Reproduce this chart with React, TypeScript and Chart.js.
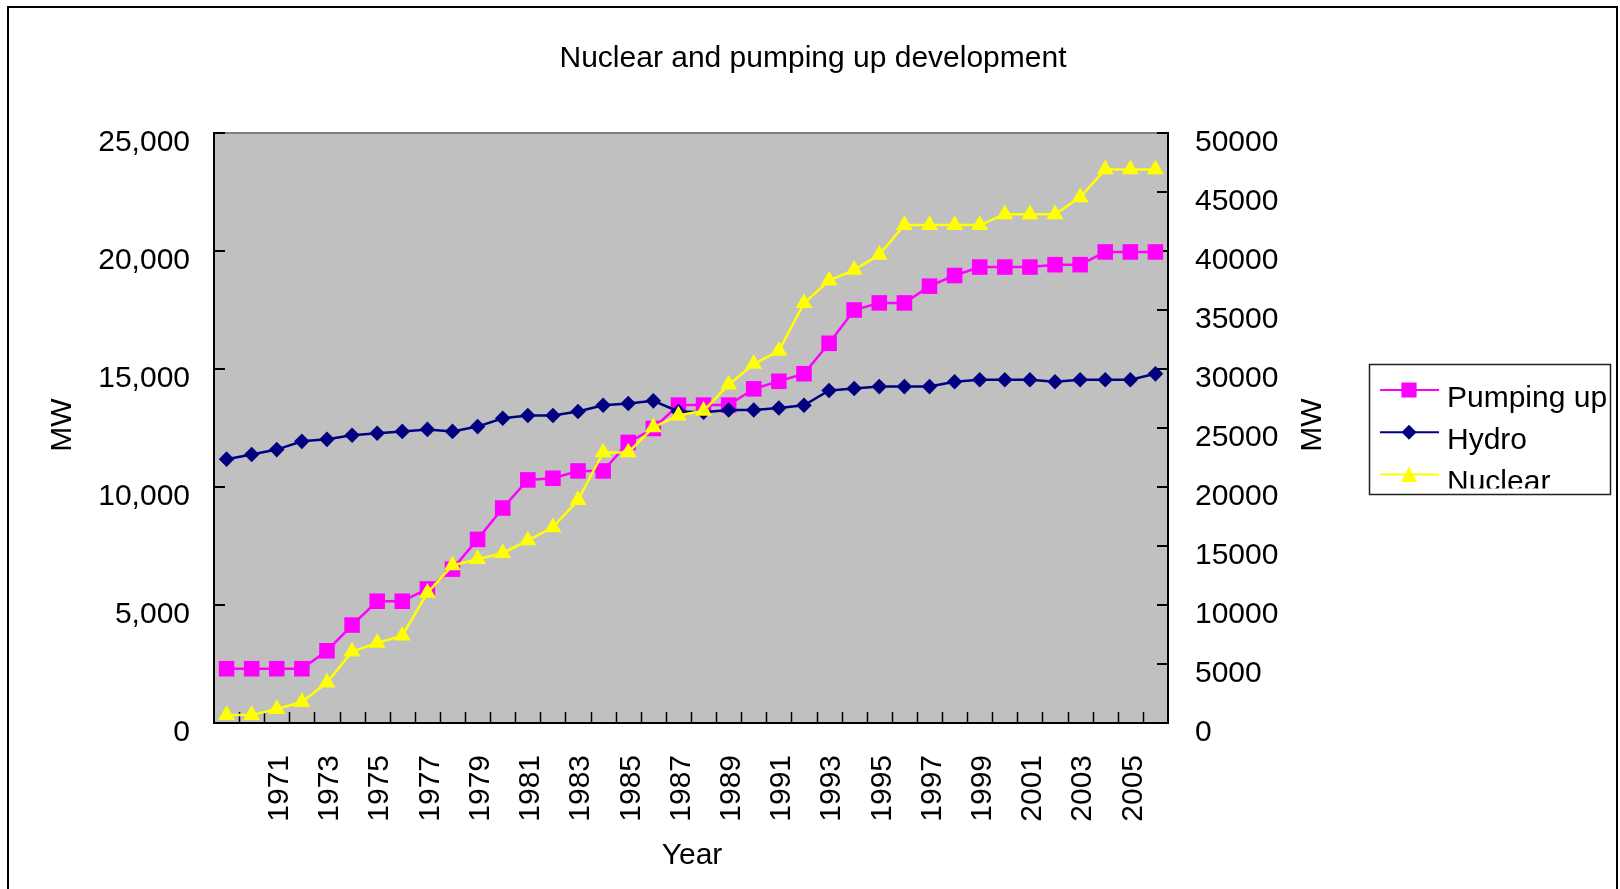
import React, { useEffect, useRef } from 'react';
import { Chart, registerables } from 'chart.js';

Chart.register(...registerables);

// ---------- data ----------
const years = [
  '1969', '1970', '1971', '1972', '1973', '1974', '1975', '1976', '1977', '1978',
  '1979', '1980', '1981', '1982', '1983', '1984', '1985', '1986', '1987', '1988',
  '1989', '1990', '1991', '1992', '1993', '1994', '1995', '1996', '1997', '1998',
  '1999', '2000', '2001', '2002', '2003', '2004', '2005', '2006',
];

// left axis (MW)
const pumpingUp = [
  2300, 2300, 2300, 2300, 3060, 4150, 5160, 5160, 5680, 6520,
  7780, 9110, 10300, 10370, 10680, 10680, 11890, 12480, 13470, 13470,
  13470, 14160, 14480, 14800, 16090, 17500, 17800, 17800, 18510, 18960,
  19320, 19320, 19320, 19420, 19420, 19960, 19960, 19960,
];

// right axis (MW)
const hydro = [
  22360, 22760, 23170, 23870, 24040, 24380, 24550, 24710, 24880, 24710,
  25120, 25820, 26060, 26060, 26400, 26930, 27070, 27300, 26400, 26330,
  26530, 26530, 26700, 26930, 28180, 28350, 28510, 28510, 28510, 28920,
  29090, 29090, 29090, 28920, 29090, 29090, 29090, 29590,
];

// right axis (MW)
const nuclear = [
  670, 670, 1180, 1780, 3430, 6050, 6790, 7400, 11030, 13350,
  13890, 14390, 15470, 16580, 18900, 22930, 22930, 25050, 26060, 26460,
  28680, 30430, 31540, 35580, 37490, 38400, 39680, 42200, 42200, 42200,
  42200, 43110, 43110, 43110, 44550, 46910, 46910, 46910,
];

const seriesNames = ['Pumping up', 'Hydro', 'Nuclear'];
const seriesColors = ['#FF00FF', '#000080', '#FFFF00'];
const seriesMarkers = ['rect', 'rectRot', 'triangle'];

const chartTitle = 'Nuclear and pumping up development';
const xAxisTitle = 'Year';
const yAxisTitle = 'MW';

const leftMax = 25000;
const rightMax = 50000;
const tickStep = 5000;

const FONT = '"Liberation Sans", Arial, Helvetica, sans-serif';
const FONT_SIZE = 30;

function drawMarker(ctx: CanvasRenderingContext2D, style: string, x: number, y: number, color: string) {
  ctx.fillStyle = color;
  ctx.beginPath();
  if (style === 'rect') {
    ctx.rect(x - 7.6, y - 7.6, 15.2, 15.2);
  } else if (style === 'rectRot') {
    ctx.moveTo(x, y - 7.5);
    ctx.lineTo(x + 7.5, y);
    ctx.lineTo(x, y + 7.5);
    ctx.lineTo(x - 7.5, y);
    ctx.closePath();
  } else {
    ctx.moveTo(x, y - 8);
    ctx.lineTo(x + 8, y + 7.5);
    ctx.lineTo(x - 8, y + 7.5);
    ctx.closePath();
  }
  ctx.fill();
}

const decorPlugin = {
  id: 'decor',
  beforeDraw(chart: any) {
    const { ctx, chartArea: a } = chart;
    ctx.save();
    ctx.fillStyle = '#ffffff';
    ctx.fillRect(0, 0, chart.width, chart.height);
    // outer frame
    ctx.strokeStyle = '#000';
    ctx.lineWidth = 2;
    ctx.beginPath();
    ctx.moveTo(8, 900);
    ctx.lineTo(8, 7);
    ctx.lineTo(1617, 7);
    ctx.lineTo(1617, 900);
    ctx.stroke();
    // plot area
    ctx.fillStyle = '#C0C0C0';
    ctx.fillRect(a.left, a.top, a.right - a.left, a.bottom - a.top);
    ctx.strokeStyle = '#808080';
    ctx.lineWidth = 2;
    ctx.beginPath();
    ctx.moveTo(a.left, a.top);
    ctx.lineTo(a.right, a.top);
    ctx.stroke();
    ctx.restore();
  },
  beforeDatasetsDraw(chart: any) {
    const { ctx, chartArea: a, scales } = chart;
    ctx.save();
    ctx.strokeStyle = '#000';
    ctx.lineWidth = 2;
    const yl = scales.y;
    yl.ticks.forEach((t: any) => {
      const y = Math.round(yl.getPixelForValue(t.value));
      ctx.beginPath();
      ctx.moveTo(a.left, y);
      ctx.lineTo(a.left + 11, y);
      ctx.stroke();
    });
    const yr = scales.y2;
    yr.ticks.forEach((t: any) => {
      const y = Math.round(yr.getPixelForValue(t.value));
      ctx.beginPath();
      ctx.moveTo(a.right - 11, y);
      ctx.lineTo(a.right, y);
      ctx.stroke();
    });
    const xs = scales.x;
    ctx.lineWidth = 1.5;
    for (let i = 1; i < years.length; i++) {
      const x = Math.round((xs.getPixelForValue(i - 1) + xs.getPixelForValue(i)) / 2) + 0.5;
      ctx.beginPath();
      ctx.moveTo(x, a.bottom - 11);
      ctx.lineTo(x, a.bottom);
      ctx.stroke();
    }
    ctx.restore();
  },
  afterDraw(chart: any) {
    const { ctx, chartArea: a } = chart;
    ctx.save();
    ctx.font = `${FONT_SIZE}px ${FONT}`;
    ctx.fillStyle = '#000';
    ctx.textAlign = 'center';
    ctx.textBaseline = 'alphabetic';
    ctx.fillText(chartTitle, 813, 67);
    ctx.fillText(xAxisTitle, (a.left + a.right) / 2 + 1, 864);

    ctx.textBaseline = 'middle';
    [63, 1313].forEach((cx) => {
      ctx.save();
      ctx.translate(cx, 425);
      ctx.rotate(-Math.PI / 2);
      ctx.fillText(yAxisTitle, 0, 0);
      ctx.restore();
    });

    // legend
    const lx = 1369, ly = 364, lw = 241, lh = 130;
    ctx.strokeStyle = '#222';
    ctx.lineWidth = 1.5;
    ctx.strokeRect(lx + 0.5, ly + 0.5, lw, lh);
    ctx.save();
    ctx.beginPath();
    ctx.rect(lx + 1.5, ly + 1.5, lw - 2, lh - 7);
    ctx.clip();
    seriesNames.forEach((name, i) => {
      const y = 390 + i * 42.2;
      ctx.strokeStyle = seriesColors[i];
      ctx.lineWidth = 2;
      ctx.beginPath();
      ctx.moveTo(1380, y);
      ctx.lineTo(1439, y);
      ctx.stroke();
      drawMarker(ctx, seriesMarkers[i], 1409, y, seriesColors[i]);
      ctx.fillStyle = '#000';
      ctx.textAlign = 'left';
      ctx.textBaseline = 'alphabetic';
      ctx.fillText(name, 1447, y + 17);
    });
    ctx.restore();
    ctx.restore();
  },
};

export default function App() {
  const canvasRef = useRef<HTMLCanvasElement | null>(null);

  useEffect(() => {
    if (!canvasRef.current) return;
    const font = { family: FONT, size: FONT_SIZE };
    const chart = new Chart(canvasRef.current, {
      type: 'line',
      data: {
        labels: years,
        datasets: [
          {
            label: seriesNames[0],
            data: pumpingUp,
            yAxisID: 'y',
            borderColor: seriesColors[0],
            backgroundColor: seriesColors[0],
            borderWidth: 2.5,
            pointStyle: 'rect',
            pointRadius: 11,
            pointHoverRadius: 11,
            pointBorderWidth: 0,
            tension: 0,
            order: 2,
          },
          {
            label: seriesNames[1],
            data: hydro,
            yAxisID: 'y2',
            borderColor: seriesColors[1],
            backgroundColor: seriesColors[1],
            borderWidth: 2.5,
            pointStyle: 'rectRot',
            pointRadius: 7.8,
            pointHoverRadius: 7.8,
            pointBorderWidth: 0,
            tension: 0,
            order: 1,
          },
          {
            label: seriesNames[2],
            data: nuclear,
            yAxisID: 'y2',
            borderColor: seriesColors[2],
            backgroundColor: seriesColors[2],
            borderWidth: 2.5,
            pointStyle: 'triangle',
            pointRadius: 9.8,
            pointHoverRadius: 9.8,
            pointBorderWidth: 0,
            tension: 0,
            order: 0,
          },
        ],
      },
      options: {
        animation: false,
        responsive: false,
        devicePixelRatio: 1,
        layout: { padding: { top: 133, left: 0, right: 0, bottom: 0 } },
        plugins: {
          legend: { display: false },
          title: { display: false },
          tooltip: { enabled: false },
        },
        scales: {
          x: {
            type: 'category',
            offset: true,
            grid: { display: false, drawTicks: false, offset: true },
            border: { display: true, color: '#000', width: 2 },
            ticks: {
              autoSkip: false,
              minRotation: 90,
              maxRotation: 90,
              padding: 32,
              labelOffset: 3,
              font,
              color: '#000',
              callback: (_v: any, i: number) => (i % 2 === 0 && i > 0 ? years[i] : ''),
            },
            afterFit: (s: any) => {
              s.height = 166;
            },
          },
          y: {
            position: 'left',
            min: 0,
            max: leftMax,
            grid: { display: false, drawTicks: false },
            border: { display: true, color: '#000', width: 2 },
            ticks: {
              stepSize: tickStep,
              padding: 24,
              labelOffset: 10,
              font,
              color: '#000',
              callback: (v: any) => Number(v).toLocaleString('en-US'),
            },
            afterFit: (s: any) => {
              s.width = 214;
            },
          },
          y2: {
            position: 'right',
            min: 0,
            max: rightMax,
            grid: { display: false, drawTicks: false },
            border: { display: true, color: '#000', width: 2 },
            ticks: {
              stepSize: tickStep,
              padding: 27,
              labelOffset: 10,
              font,
              color: '#000',
              callback: (v: any) => String(v),
            },
            afterFit: (s: any) => {
              s.width = 1620 - 1168;
            },
          },
        },
      },
      plugins: [decorPlugin],
    });
    return () => chart.destroy();
  }, []);

  return (
    <div style={{ position: 'fixed', left: 0, top: 0, width: 1620, height: 889, overflow: 'hidden' }}>
      <canvas ref={canvasRef} width={1620} height={889} style={{ display: 'block' }} />
    </div>
  );
}
